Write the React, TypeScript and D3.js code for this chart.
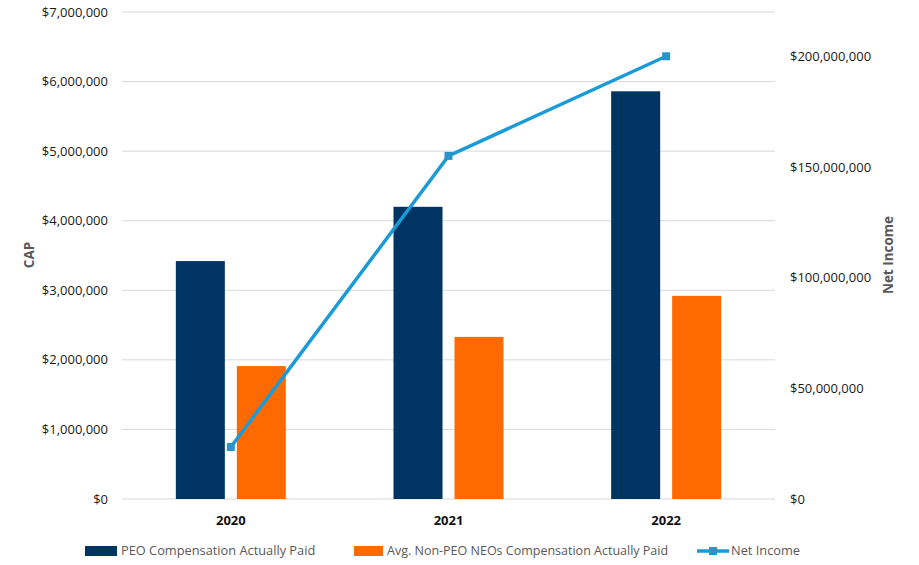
import React from "react";
import * as d3 from "d3";

const categories = ["2020", "2021", "2022"];
const peoCap = [3420000, 4200000, 5860000];
const neoCap = [1910000, 2330000, 2920000];
const netIncome = [23500000, 155000000, 200000000];
const leftTicks = [0, 1000000, 2000000, 3000000, 4000000, 5000000, 6000000, 7000000];
const rightTicks = [0, 50000000, 100000000, 150000000, 200000000];
const seriesNames = ["PEO Compensation Actually Paid", "Avg. Non-PEO NEOs Compensation Actually Paid", "Net Income"];

const W = 919, H = 565;
const M = { left: 122, right: 775, top: 12, bottom: 499 };
const FONT = "'Open Sans', 'Noto Sans', sans-serif";
const NAVY = "#003462";
const ORANGE = "#ff6a00";
const LINE = "#1a9bd7";

export default function App() {
  const x = d3.scaleBand<string>().domain(categories).range([M.left, M.right]).paddingInner(0).paddingOuter(0);
  const yL = d3.scaleLinear().domain([0, 7000000]).range([M.bottom, M.top]);
  const yR = d3.scaleLinear().domain([0, 220000000]).range([M.bottom, M.top]);
  const fmt = (v: number) => "$" + d3.format(",")(v);
  const barW = 49, gap = 12;
  const line = d3.line<number>().x((_, i) => x(categories[i])! + x.bandwidth() / 2).y((d) => yR(d));

  return (
    <svg width={W} height={H} style={{ position: "absolute", left: 0, top: 0, background: "#fff" }} fontFamily={FONT}>
      {leftTicks.map((t) => (
        <g key={t}>
          <line x1={M.left} x2={M.right} y1={yL(t)} y2={yL(t)} stroke="#d9d9d9" strokeWidth={1} />
          <text x={108} y={yL(t)} dy="0.35em" textAnchor="end" fontSize={13} fill="#1a1a1a">{fmt(t)}</text>
        </g>
      ))}
      {rightTicks.map((t) => (
        <text key={t} x={790} y={yR(t)} dy="0.35em" textAnchor="start" fontSize={13} fill="#1a1a1a">{fmt(t)}</text>
      ))}
      {categories.map((c, i) => {
        const cx = x(c)! + x.bandwidth() / 2;
        return (
          <g key={c}>
            <rect x={cx - gap / 2 - barW} y={yL(peoCap[i])} width={barW} height={yL(0) - yL(peoCap[i])} fill={NAVY} />
            <rect x={cx + gap / 2} y={yL(neoCap[i])} width={barW} height={yL(0) - yL(neoCap[i])} fill={ORANGE} />
            <text x={cx} y={520} dy="0.35em" textAnchor="middle" fontSize={13} fontWeight="bold" fill="#111">{c}</text>
          </g>
        );
      })}
      <path d={line(netIncome)!} fill="none" stroke={LINE} strokeWidth={3.5} />
      {netIncome.map((v, i) => {
        const cx = x(categories[i])! + x.bandwidth() / 2;
        return <rect key={i} x={cx - 4} y={yR(v) - 4} width={8} height={8} fill="#2a93cc" />;
      })}
      <text transform={`translate(29,255) rotate(-90)`} textAnchor="middle" dy="0.35em" fontSize={13.5} fontWeight="bold" fill="#595959">CAP</text>
      <text transform={`translate(888,255) rotate(-90)`} textAnchor="middle" dy="0.35em" fontSize={13.5} fontWeight="bold" fill="#595959">Net Income</text>
      {/* legend */}
      <rect x={85} y={546} width={32} height={10} fill={NAVY} />
      <text x={121} y={551} dy="0.35em" fontSize={12.8} fill="#595959">{seriesNames[0]}</text>
      <rect x={354} y={546} width={29} height={10} fill={ORANGE} />
      <text x={387} y={551} dy="0.35em" fontSize={12.5} fill="#595959">{seriesNames[1]}</text>
      <line x1={697} x2={729} y1={551} y2={551} stroke={LINE} strokeWidth={3.5} />
      <rect x={709} y={547} width={8} height={8} fill="#2a93cc" />
      <text x={731} y={551} dy="0.35em" fontSize={12.8} fill="#595959">{seriesNames[2]}</text>
    </svg>
  );
}
